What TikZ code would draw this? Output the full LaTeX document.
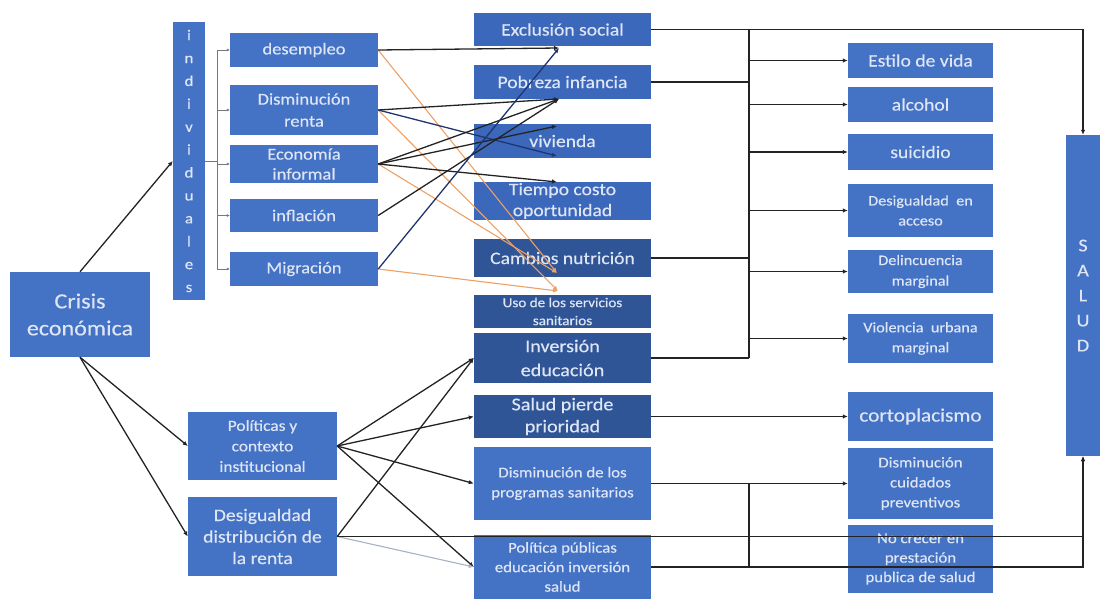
\documentclass[tikz,border=0pt]{standalone}
\usepackage{fontspec}
\setmainfont{Carlito}[FakeStretch=1.12,FakeBold=0.4]
\usepackage{xcolor}
\usepackage{tikz}
\usetikzlibrary{arrows.meta,positioning,calc}
\definecolor{bxA}{RGB}{68,114,196}
\definecolor{bxM}{RGB}{60,104,188}
\definecolor{bxD}{RGB}{47,85,151}
\definecolor{txtC}{RGB}{222,230,245}
\definecolor{lineC}{RGB}{35,35,35}
\definecolor{oraC}{RGB}{236,160,100}
\definecolor{navC}{RGB}{32,52,112}
\definecolor{greyC}{RGB}{165,178,195}
\definecolor{thinC}{RGB}{120,120,120}
\newcommand{\fsz}[2]{\fontsize{#1}{#2}\selectfont}

\begin{document}
\begin{tikzpicture}[x=1pt,y=-1pt,
  box/.style={fill=bxA,text=txtC,align=center,inner sep=0pt,font=\fsz{16.5}{22}},
  ind/.style={box,minimum width=148pt},
  mid/.style={box,minimum width=177pt,font=\fsz{17.5}{22}},
  dmid/.style={mid,fill=bxD},
  rt/.style={box,minimum width=145pt,font=\fsz{17.5}{22}},
  ar/.style={-{Latex[length=5pt,width=4.5pt]},line width=1.3pt,draw=lineC},
  arN/.style={ar,draw=navC},
  arO/.style={ar,draw=oraC,line width=1.1pt},
  arG/.style={ar,draw=greyC,line width=1.1pt},
  lnk/.style={line width=1.3pt,draw=lineC},
  thn/.style={line width=0.6pt,draw=thinC}]
\useasboundingbox (0,0) rectangle (1100,599);
\node[box,minimum width=140pt,minimum height=85pt,font=\fsz{21.5}{27}] (crisis) at (80,314.5) {Crisis\\económica};
\node[box,minimum width=32pt,minimum height=278pt,font=\fsz{15}{22.9}] (indiv) at (189,161) {i\\n\\d\\i\\v\\i\\d\\u\\a\\l\\e\\s};
\node[ind,minimum height=34pt] (desem) at (304,50) {desempleo};
\node[ind,minimum height=50pt] (renta) at (304,110) {Disminución\\renta};
\node[ind,minimum height=38pt,font=\fsz{16.5}{20}] (infor) at (304,164) {Economía\\informal};
\node[ind,minimum height=33pt] (infla) at (304,215.5) {inflación};
\node[ind,minimum height=34pt] (migra) at (304,269) {Migración};
\node[box,minimum width=149pt,minimum height=68pt,font=\fsz{15.5}{20.5}] (polit) at (262.5,446) {Políticas y\\contexto\\institucional};
\node[box,minimum width=149pt,minimum height=79pt,font=\fsz{17.5}{21.5}] (desig) at (262.5,536.5) {Desigualdad\\distribución de\\la renta};
\node[mid,fill=bxM,minimum height=33pt] (exclu) at (562.5,29.5) {Exclusión social};
\node[mid,fill=bxM,minimum height=34pt] (pobre) at (562.5,82) {Pobreza infancia};
\node[mid,fill=bxM,minimum height=34pt] (vivi) at (562.5,141) {vivienda};
\node[mid,fill=bxM,minimum height=38pt,font=\fsz{17.5}{21}] (tiempo) at (562.5,201) {Tiempo costo\\oportunidad};
\node[dmid,minimum height=38pt] (nutri) at (562.5,258) {Cambios nutrición};
\node[dmid,minimum height=33pt,font=\fsz{13.5}{18}] (usoss) at (562.5,311.5) {Uso de los servicios\\sanitarios};
\node[dmid,minimum height=50pt,font=\fsz{18}{24}] (inved) at (562.5,358) {Inversión\\educación};
\node[dmid,minimum height=43pt,font=\fsz{18}{22}] (salpri) at (562.5,416.5) {Salud pierde\\prioridad};
\node[mid,minimum height=73pt,font=\fsz{15}{20}] (disprog) at (562.5,483.5) {Disminución de los\\programas sanitarios};
\node[mid,minimum height=64pt,font=\fsz{15}{19.5}] (polpub) at (562.5,567) {Política públicas\\educación inversión\\salud};
\node[rt,minimum height=35pt] (estilo) at (920.5,60.5) {Estilo de vida};
\node[rt,minimum height=35pt] (alcohol) at (920.5,104.5) {alcohol};
\node[rt,minimum height=36pt] (suic) at (920.5,152) {suicidio};
\node[rt,minimum height=53pt,font=\fsz{14.5}{20}] (desacc) at (920.5,210.5) {Desigualdad\ \ en\\acceso};
\node[rt,minimum height=43pt,font=\fsz{14.5}{20.5}] (delin) at (920.5,271.5) {Delincuencia\\marginal};
\node[rt,minimum height=49pt,font=\fsz{14.5}{20}] (viol) at (920.5,338.5) {Violencia\ \ urbana\\marginal};
\node[rt,minimum height=49pt,font=\fsz{19}{22}] (corto) at (920.5,416.5) {cortoplacismo};
\node[rt,minimum height=71pt,font=\fsz{15}{20}] (discui) at (920.5,483.5) {Disminución\\cuidados\\preventivos};
\node[rt,minimum height=68pt,font=\fsz{15}{19.5}] (nocre) at (920.5,559) {No crecer en\\prestación\\publica de salud};
\node[box,minimum width=34pt,minimum height=321pt,font=\fsz{18}{25}] (salud) at (1083,295.5) {S\\A\\L\\U\\D};
\coordinate (brk) at (217,161);
\coordinate (spl) at (749,0);
\coordinate (eExc) at (559,48);
\coordinate (ePob) at (559,99);
\coordinate (eVivA) at (557,126);
\coordinate (eVivB) at (557,156);
\coordinate (eTie) at (557,182);
\coordinate (eNut) at (557,273);
\coordinate (eUso) at (558,291);
\draw[ar] (crisis.north)--(indiv.west);
\draw[ar] (crisis.south)--(polit.west);
\draw[ar] (crisis.south)--(desig.west);
\draw[thn] (indiv.east)--(brk);
\draw[thn] (brk |- desem)--(brk |- migra);
\draw[thn,-{Latex[length=3pt,width=3pt]}] (brk |- desem)--(desem.west);
\draw[thn,-{Latex[length=3pt,width=3pt]}] (brk |- renta)--(renta.west);
\draw[thn,-{Latex[length=3pt,width=3pt]}] (brk |- infor)--(infor.west);
\draw[thn,-{Latex[length=3pt,width=3pt]}] (brk |- infla)--(infla.west);
\draw[thn,-{Latex[length=3pt,width=3pt]}] (brk |- migra)--(migra.west);
\draw[arO] (desem.east)--(eNut);
\draw[arO] (renta.east)--(eUso);
\draw[arO] (infor.east)--(eNut);
\draw[arO] (migra.east)--(eUso);
\draw[ar] (desem.east)--(eExc);
\draw[ar] (renta.east)--(ePob);
\draw[arN] (renta.east)--(eVivB);
\draw[ar] (infor.east)--(ePob);
\draw[ar] (infor.east)--(eVivA);
\draw[ar] (infor.east)--(eTie);
\draw[ar] (infla.east)--(ePob);
\draw[arN] (migra.east)--(eExc);
\draw[ar] (polit.east)--(inved.west);
\draw[ar] (polit.east)--(salpri.west);
\draw[ar] (polit.east)--(disprog.west);
\draw[ar] (polit.east)--(polpub.west);
\draw[ar] (desig.east)--(inved.west);
\draw[arG] (desig.east)--(polpub.west);
\draw[ar] (exclu.east)--(salud.north |- exclu.east)--(salud.north);
\draw[lnk] (spl |- exclu.east)--(spl |- inved.east);
\draw[lnk] (pobre.east)--(spl |- pobre.east);
\draw[lnk] (nutri.east)--(spl |- nutri.east);
\draw[lnk] (inved.east)--(spl |- inved.east);
\draw[ar] (spl |- estilo.west)--(estilo.west);
\draw[ar] (spl |- alcohol.west)--(alcohol.west);
\draw[ar] (spl |- suic.west)--(suic.west);
\draw[ar] (spl |- desacc.west)--(desacc.west);
\draw[ar] (spl |- delin.west)--(delin.west);
\draw[ar] (spl |- viol.west)--(viol.west);
\draw[ar] (salpri.east)--(corto.west);
\draw[ar] (disprog.east)--(discui.west);
\draw[lnk] (spl |- disprog.east)--(spl |- polpub.east);
\draw[ar] (polpub.east)--(salud.south |- polpub.east)--(salud.south);
\draw[ar] (desig.east)--(salud.south |- desig.east)--(salud.south);
\end{tikzpicture}
\end{document}
